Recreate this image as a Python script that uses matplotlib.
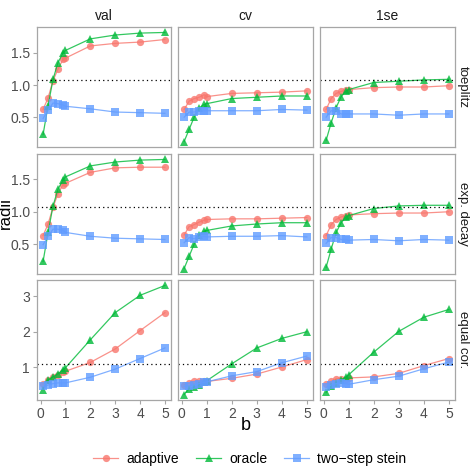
import numpy as np
import matplotlib
matplotlib.use('Agg')
import matplotlib.pyplot as plt

plt.rcParams['font.family'] = ['Liberation Sans', 'DejaVu Sans']

# values
b = [0.1, 0.3, 0.5, 0.7, 0.9, 1, 2, 3, 4, 5]
methods = ['val', 'cv', '1se']
designs = ['toeplitz', 'exp. decay', 'equal cor.']
series = ['adaptive', 'oracle', 'two−step stein']
cutoff = 1.08

# toeplitz
adaptive_toep = {
    'val': [0.62, 0.80, 1.07, 1.25, 1.40, 1.42, 1.61, 1.65, 1.67, 1.71],
    'cv': [0.62, 0.75, 0.79, 0.81, 0.85, 0.82, 0.87, 0.88, 0.89, 0.91],
    '1se': [0.62, 0.79, 0.87, 0.90, 0.93, 0.93, 0.96, 0.97, 0.97, 0.99],
}
oracle_toep = {
    'val': [0.23, 0.68, 1.09, 1.35, 1.50, 1.54, 1.72, 1.78, 1.81, 1.82],
    'cv': [0.12, 0.31, 0.50, 0.64, 0.70, 0.71, 0.79, 0.81, 0.83, 0.83],
    '1se': [0.14, 0.41, 0.65, 0.82, 0.91, 0.93, 1.04, 1.06, 1.08, 1.09],
}
stein_toep = {
    'val': [0.48, 0.61, 0.72, 0.71, 0.69, 0.67, 0.63, 0.58, 0.57, 0.56],
    'cv': [0.50, 0.58, 0.58, 0.59, 0.60, 0.60, 0.60, 0.60, 0.62, 0.61],
    '1se': [0.50, 0.60, 0.60, 0.55, 0.55, 0.55, 0.55, 0.53, 0.55, 0.55],
}

# exp. decay
adaptive_exp = {
    'val': [0.63, 0.81, 1.07, 1.28, 1.42, 1.44, 1.61, 1.68, 1.69, 1.69],
    'cv': [0.64, 0.77, 0.80, 0.84, 0.87, 0.88, 0.89, 0.89, 0.90, 0.91],
    '1se': [0.63, 0.80, 0.88, 0.92, 0.94, 0.95, 0.97, 0.98, 0.98, 1.00],
}
oracle_exp = {
    'val': [0.23, 0.68, 1.09, 1.35, 1.49, 1.54, 1.71, 1.77, 1.80, 1.81],
    'cv': [0.12, 0.31, 0.50, 0.64, 0.70, 0.71, 0.78, 0.81, 0.83, 0.83],
    '1se': [0.14, 0.42, 0.68, 0.83, 0.92, 0.94, 1.05, 1.09, 1.10, 1.10],
}
stein_exp = {
    'val': [0.49, 0.62, 0.73, 0.73, 0.71, 0.68, 0.62, 0.59, 0.58, 0.57],
    'cv': [0.52, 0.60, 0.58, 0.61, 0.62, 0.61, 0.62, 0.62, 0.63, 0.61],
    '1se': [0.51, 0.60, 0.60, 0.57, 0.57, 0.56, 0.57, 0.55, 0.57, 0.56],
}

# equal cor.
adaptive_eq = {
    'val': [0.52, 0.64, 0.72, 0.78, 0.85, 0.88, 1.13, 1.51, 2.03, 2.54],
    'cv': [0.50, 0.54, 0.59, 0.61, 0.59, 0.59, 0.68, 0.80, 1.00, 1.21],
    '1se': [0.52, 0.59, 0.67, 0.67, 0.67, 0.69, 0.72, 0.82, 1.04, 1.24],
}
oracle_eq = {
    'val': [0.36, 0.64, 0.72, 0.81, 0.92, 0.98, 1.77, 2.54, 3.03, 3.31],
    'cv': [0.22, 0.39, 0.43, 0.50, 0.58, 0.61, 1.09, 1.54, 1.81, 2.00],
    '1se': [0.28, 0.47, 0.55, 0.64, 0.72, 0.78, 1.42, 2.01, 2.41, 2.63],
}
stein_eq = {
    'val': [0.45, 0.49, 0.53, 0.55, 0.55, 0.55, 0.71, 0.94, 1.24, 1.54],
    'cv': [0.45, 0.47, 0.50, 0.53, 0.57, 0.58, 0.75, 0.87, 1.12, 1.31],
    '1se': [0.43, 0.49, 0.53, 0.55, 0.53, 0.51, 0.64, 0.74, 0.95, 1.14],
}

data = {
    'toeplitz': [adaptive_toep, oracle_toep, stein_toep],
    'exp. decay': [adaptive_exp, oracle_exp, stein_exp],
    'equal cor.': [adaptive_eq, oracle_eq, stein_eq],
}
yticks = {
    'toeplitz': [0.5, 1.0, 1.5],
    'exp. decay': [0.5, 1.0, 1.5],
    'equal cor.': [1, 2, 3],
}
ytick_labels = {
    'toeplitz': ['0.5', '1.0', '1.5'],
    'exp. decay': ['0.5', '1.0', '1.5'],
    'equal cor.': ['1', '2', '3'],
}

colors = ['#F8766D', '#00BA38', '#619CFF']
markers = ['o', '^', 's']
border = '#A6A6A6'
tickcol = '#4D4D4D'

W, H = 472, 467
fig = plt.figure(figsize=(W / 100, H / 100), dpi=100)

col_x = [(37, 171), (178, 313), (320, 455)]
row_y = [(27, 147), (154, 274), (280, 400)]

xmin, xmax = min(b), max(b)
xpad = 0.05 * (xmax - xmin)

legend_handles = []
for i, d in enumerate(designs):
    allv = np.concatenate([np.array(s[m]) for s in data[d] for m in methods])
    lo, hi = allv.min(), allv.max()
    ypad = 0.05 * (hi - lo)
    for j, m in enumerate(methods):
        x0, x1 = col_x[j]
        y0, y1 = row_y[i]
        ax = fig.add_axes([x0 / W, 1 - y1 / H, (x1 - x0) / W, (y1 - y0) / H])
        for k, s in enumerate(data[d]):
            h, = ax.plot(b, s[m], color=colors[k], marker=markers[k],
                         ms=6 if k == 1 else 5.2, lw=0.9, alpha=0.8,
                         markeredgewidth=0, label=series[k])
            if i == 0 and j == 0:
                legend_handles.append(h)
        ax.axhline(cutoff, color='black', ls=(0, (1, 2.5)), lw=0.9)
        ax.set_xlim(xmin - xpad, xmax + xpad)
        ax.set_ylim(lo - ypad, hi + ypad)
        for sp in ax.spines.values():
            sp.set_color(border)
            sp.set_linewidth(0.9)
        ax.set_xticks([0, 1, 2, 3, 4, 5])
        ax.set_yticks(yticks[d])
        ax.tick_params(colors=border, labelcolor=tickcol, labelsize=10,
                       length=3, width=0.8, pad=2)
        if i < 2:
            ax.tick_params(axis='x', length=0, labelbottom=False)
        if j > 0:
            ax.tick_params(axis='y', length=0, labelleft=False)
        else:
            ax.set_yticklabels(ytick_labels[d])
        if i == 0:
            ax.set_title(m, fontsize=10, color='#1A1A1A', pad=5)
        if j == 2:
            ax.text(1.012, 0.5, d, transform=ax.transAxes, rotation=-90,
                    ha='left', va='center', fontsize=9.5, color='#1A1A1A')

fig.text(246 / W, 1 - 426 / H, 'b', ha='center', va='center', fontsize=13)
fig.text(5 / W, 1 - 213 / H, 'radii', ha='center', va='center',
         rotation=90, fontsize=12)

fig.legend(handles=legend_handles, labels=series, loc='center',
           bbox_to_anchor=(250 / W, 1 - 459 / H), ncol=3, frameon=False,
           fontsize=10, handlelength=1.8, columnspacing=1.2,
           handletextpad=0.6)

fig.savefig('out.png', dpi=100)
